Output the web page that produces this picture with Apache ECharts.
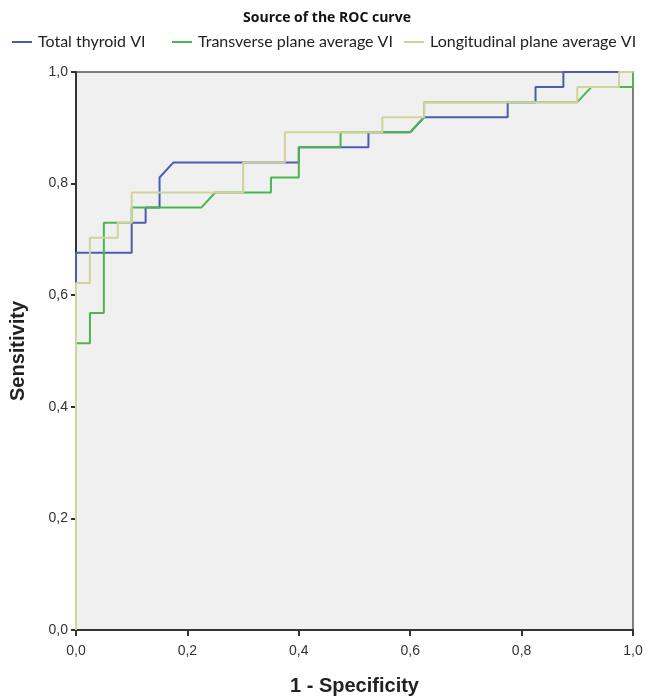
<!DOCTYPE html>
<html>
<head>
<meta charset="utf-8">
<script src="https://cdn.jsdelivr.net/npm/echarts@6/dist/echarts.min.js"></script>
<style>html,body{margin:0;padding:0;background:#fff;}#c{width:654px;height:696px;}</style>
</head>
<body>
<div id="c"></div>
<script>
const seriesNames = ['Total thyroid VI', 'Transverse plane average VI', 'Longitudinal plane average VI'];
const xTicks = [0, 0.2, 0.4, 0.6, 0.8, 1.0];
const yTicks = [0, 0.2, 0.4, 0.6, 0.8, 1.0];

const totalThyroid = [
  [0,0],[0,0.676],[0.1,0.676],[0.1,0.730],[0.125,0.730],[0.125,0.757],[0.15,0.757],[0.15,0.811],
  [0.175,0.838],[0.4,0.838],[0.4,0.865],[0.525,0.865],[0.525,0.892],[0.6,0.892],[0.625,0.919],
  [0.775,0.919],[0.775,0.946],[0.825,0.946],[0.825,0.973],[0.875,0.973],[0.875,1],[1,1]
];
const transverse = [
  [0,0],[0,0.514],[0.025,0.514],[0.025,0.568],[0.05,0.568],[0.05,0.730],[0.1,0.730],[0.1,0.757],
  [0.225,0.757],[0.25,0.784],[0.35,0.784],[0.35,0.811],[0.4,0.811],[0.4,0.865],[0.475,0.865],
  [0.475,0.892],[0.6,0.892],[0.625,0.919],[0.625,0.946],[0.9,0.946],[0.925,0.973],[1,0.973],[1,1]
];
const longitudinal = [
  [0,0],[0,0.622],[0.025,0.622],[0.025,0.703],[0.075,0.703],[0.075,0.730],[0.1,0.730],[0.1,0.784],
  [0.3,0.784],[0.3,0.838],[0.375,0.838],[0.375,0.892],[0.55,0.892],[0.55,0.919],[0.625,0.919],
  [0.625,0.946],[0.9,0.946],[0.9,0.973],[0.975,0.973],[0.975,1],[1,1]
];

const colors = ['#4a5db0', '#4cb54f', '#d2d29c'];
const fmt = v => v.toFixed(1).replace('.', ',');

const chart = echarts.init(document.getElementById('c'), null, {renderer: 'canvas'});
const legendBase = {
  top: 34, icon: 'rect', itemWidth: 20, itemHeight: 2, itemGap: 0,
  textStyle: {fontFamily: 'Lato', fontSize: 16, color: '#222', padding: [0,0,0,1]},
  padding: 0
};
chart.setOption({
  backgroundColor: '#ffffff',
  animation: false,
  title: {
    text: 'Source of the ROC curve', left: 'center', top: 6,
    textStyle: {fontFamily: 'Open Sans', fontWeight: 'bold', fontSize: 14, color: '#111'}
  },
  legend: [
    Object.assign({}, legendBase, {left: 12, data: [seriesNames[0]]}),
    Object.assign({}, legendBase, {left: 172, data: [seriesNames[1]]}),
    Object.assign({}, legendBase, {left: 404, data: [seriesNames[2]]})
  ],
  grid: {
    left: 76, right: 21, top: 72, bottom: 66,
    outerBoundsMode: 'none', containLabel: false,
    show: true, backgroundColor: '#f0f0f0', borderColor: '#555', borderWidth: 1.5
  },
  xAxis: {
    type: 'value', min: 0, max: 1, interval: 0.2,
    name: '1 - Specificity', nameLocation: 'middle', nameGap: 46,
    nameTextStyle: {fontFamily: 'Liberation Sans', fontWeight: 'bold', fontSize: 20, color: '#222'},
    axisLine: {show: true, onZero: false, lineStyle: {color: '#333', width: 2}},
    axisTick: {show: true, length: 6, lineStyle: {color: '#333', width: 2}},
    axisLabel: {formatter: v => fmt(v), fontFamily: 'Liberation Sans', fontSize: 14, color: '#333', margin: 14},
    splitLine: {show: false}
  },
  yAxis: {
    type: 'value', min: 0, max: 1, interval: 0.2,
    name: 'Sensitivity', nameLocation: 'middle', nameGap: 48,
    nameTextStyle: {fontFamily: 'Liberation Sans', fontWeight: 'bold', fontSize: 20, color: '#222'},
    axisLine: {show: true, onZero: false, lineStyle: {color: '#333', width: 2}},
    axisTick: {show: true, length: 5, lineStyle: {color: '#333', width: 2}},
    axisLabel: {formatter: v => fmt(v), fontFamily: 'Liberation Sans', fontSize: 14, color: '#333', margin: 8},
    splitLine: {show: false}
  },
  series: [
    {name: seriesNames[0], type: 'line', data: totalThyroid, showSymbol: false, symbol: 'none',
     lineStyle: {color: colors[0], width: 2}, itemStyle: {color: colors[0]}, z: 2},
    {name: seriesNames[1], type: 'line', data: transverse, showSymbol: false, symbol: 'none',
     lineStyle: {color: colors[1], width: 2}, itemStyle: {color: colors[1]}, z: 3},
    {name: seriesNames[2], type: 'line', data: longitudinal, showSymbol: false, symbol: 'none',
     lineStyle: {color: colors[2], width: 2}, itemStyle: {color: colors[2]}, z: 4}
  ]
});
</script>
</body>
</html>
